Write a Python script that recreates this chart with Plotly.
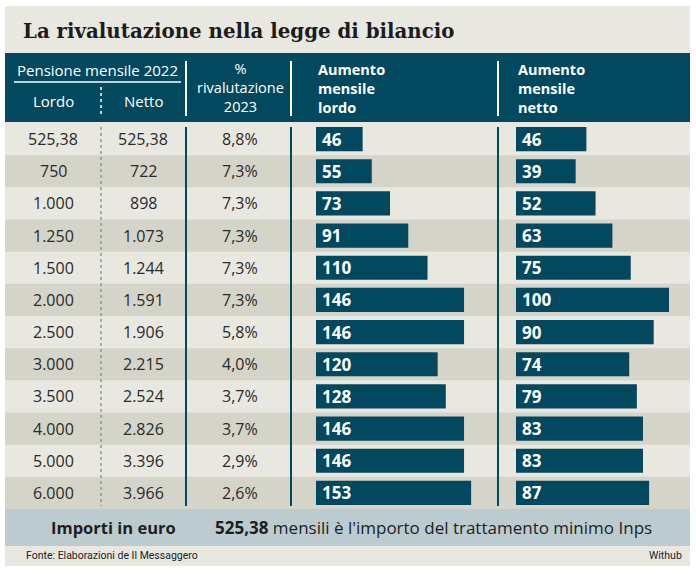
import plotly.graph_objects as go

# ---- data ----
lordo = ["525,38", "750", "1.000", "1.250", "1.500", "2.000", "2.500", "3.000",
         "3.500", "4.000", "5.000", "6.000"]
netto = ["525,38", "722", "898", "1.073", "1.244", "1.591", "1.906", "2.215",
         "2.524", "2.826", "3.396", "3.966"]
rivalutazione = ["8,8%", "7,3%", "7,3%", "7,3%", "7,3%", "7,3%", "5,8%", "4,0%",
                 "3,7%", "3,7%", "2,9%", "2,6%"]
aumento_lordo = [46, 55, 73, 91, 110, 146, 146, 120, 128, 146, 146, 153]
aumento_netto = [46, 39, 52, 63, 75, 100, 90, 74, 79, 83, 83, 87]

title = "La rivalutazione nella legge di bilancio"
header_group = "Pensione mensile 2022"
header_cols = ["Lordo", "Netto"]
header_pct = "%<br>rivalutazione<br>2023"
header_lordo = "Aumento<br>mensile<br>lordo"
header_netto = "Aumento<br>mensile<br>netto"
note_left = "Importi in euro"
note_right = "<b>525,38</b> mensili è l'importo del trattamento minimo Inps"
source = "Fonte: Elaborazioni de Il Messaggero"
credit = "Withub"

# ---- styling / layout ----
W, H = 696, 574
TEAL = "#02495f"
LIGHT = "#e8e7e0"
DARK = "#d5d4c9"
BAND = "#bccbd0"
TXT = "#2a2a2a"
SANS = "Open Sans"
NARROW = "Liberation Sans Narrow, Roboto"

ROW_TOP, ROW_BOT = 123, 509
n = len(lordo)
rh = (ROW_BOT - ROW_TOP) / n
rows = list(range(n))


def px(x):
    return x / W


def py(y):
    return 1 - y / H


fig = go.Figure()

# bars
LX0, LSCALE, LMAX = 316, 1.014, 160
NX0, NSCALE, NMAX = 516, 1.53, 110

for vals, xa in ((aumento_lordo, "x2"), (aumento_netto, "x3")):
    fig.add_trace(go.Bar(
        x=vals, y=rows, orientation="h", xaxis=xa, yaxis="y2",
        width=0.75, marker=dict(color=TEAL, line=dict(width=0)),
        hoverinfo="skip",
    ))

shapes = []


def rect(x0, y0, x1, y1, color):
    shapes.append(dict(type="rect", xref="paper", yref="paper",
                       x0=px(x0), x1=px(x1), y0=py(y0), y1=py(y1),
                       fillcolor=color, line=dict(width=0), layer="below"))


def vline(x, y0, y1, color, width=2, dash="solid"):
    shapes.append(dict(type="line", xref="paper", yref="paper",
                       x0=px(x), x1=px(x), y0=py(y0), y1=py(y1),
                       line=dict(color=color, width=width, dash=dash), layer="below"))


rect(5, 6, 690, 566, LIGHT)
rect(5, 53, 690, 122, TEAL)
for i in rows:
    if i % 2 == 1:
        rect(5, ROW_TOP + i * rh, 690, ROW_TOP + (i + 1) * rh, DARK)
rect(5, 509, 690, 546, BAND)

# header separators
for x in (186, 291, 498):
    vline(x, 61, 116, "white", 2)
vline(101, 87, 117, "white", 1.5, "dot")
shapes.append(dict(type="line", xref="paper", yref="paper",
                   x0=px(14), x1=px(181), y0=py(82), y1=py(82),
                   line=dict(color="white", width=1.5), layer="below"))
# body separators
for x in (186, 291, 498):
    vline(x, 127, 506, TEAL, 2)
vline(101, 127, 506, "#8e989c", 1.5, "dot")

ann = []


def text(x, y, s, size, color, family=SANS, anchor="center", bold=False, yref="paper"):
    ann.append(dict(x=px(x), y=py(y) if yref == "paper" else y, xref="paper", yref=yref,
                    text=("<b>%s</b>" % s) if bold else s, showarrow=False,
                    xanchor=anchor, yanchor="middle", align=anchor if anchor != "right" else "right",
                    font=dict(size=size, color=color, family=family)))


text(21, 31, title, 19.8, "#1c1c1c", family="DejaVu Serif", anchor="left", bold=True)

text(97, 70, header_group, 15, "white")
text(53, 101, header_cols[0], 15, "white")
text(143, 101, header_cols[1], 15, "white")
text(240, 88, header_pct, 14.5, "white")
text(316, 89, header_lordo, 14.5, "white", anchor="left", bold=True)
text(516, 89, header_netto, 14.5, "white", anchor="left", bold=True)

for i in rows:
    text(53, i, lordo[i], 16, TXT, yref="y2")
    text(143, i, netto[i], 16, TXT, yref="y2")
    text(240, i, rivalutazione[i], 16, TXT, yref="y2")
    for vals, xa in ((aumento_lordo, "x2"), (aumento_netto, "x3")):
        ann.append(dict(x=0, y=i, xref=xa, yref="y2", text="<b>%d</b>" % vals[i],
                        showarrow=False, xanchor="left", yanchor="middle", xshift=4,
                        font=dict(size=17, color="white", family=SANS)))

text(113, 527, note_left, 16.5, "#1e1e1e", bold=True)
text(213, 527, note_right, 17, "#1e1e1e", anchor="left")
text(24, 555, source, 10.5, "#222222", family=NARROW, anchor="left")
text(684, 555, credit, 10.5, "#222222", family=NARROW, anchor="right")

hidden = dict(visible=False, showgrid=False, zeroline=False, fixedrange=True)
fig.update_layout(
    width=W, height=H, margin=dict(l=0, r=0, t=0, b=0),
    paper_bgcolor="white", plot_bgcolor="rgba(0,0,0,0)",
    showlegend=False, barmode="overlay",
    shapes=shapes, annotations=ann,
    xaxis2=dict(domain=[px(LX0), px(LX0 + LMAX * LSCALE)], range=[0, LMAX],
                anchor="y2", **hidden),
    xaxis3=dict(domain=[px(NX0), px(NX0 + NMAX * NSCALE)], range=[0, NMAX],
                anchor="y2", **hidden),
    yaxis2=dict(domain=[py(ROW_BOT), py(ROW_TOP)], range=[n - 0.5, -0.5],
                anchor="x2", **hidden),
    xaxis=dict(visible=False), yaxis=dict(visible=False),
)

fig.write_html("out.html", config={"displayModeBar": False},
               post_script="document.body.style.margin='0';"
                           "document.body.style.overflow='hidden';")
